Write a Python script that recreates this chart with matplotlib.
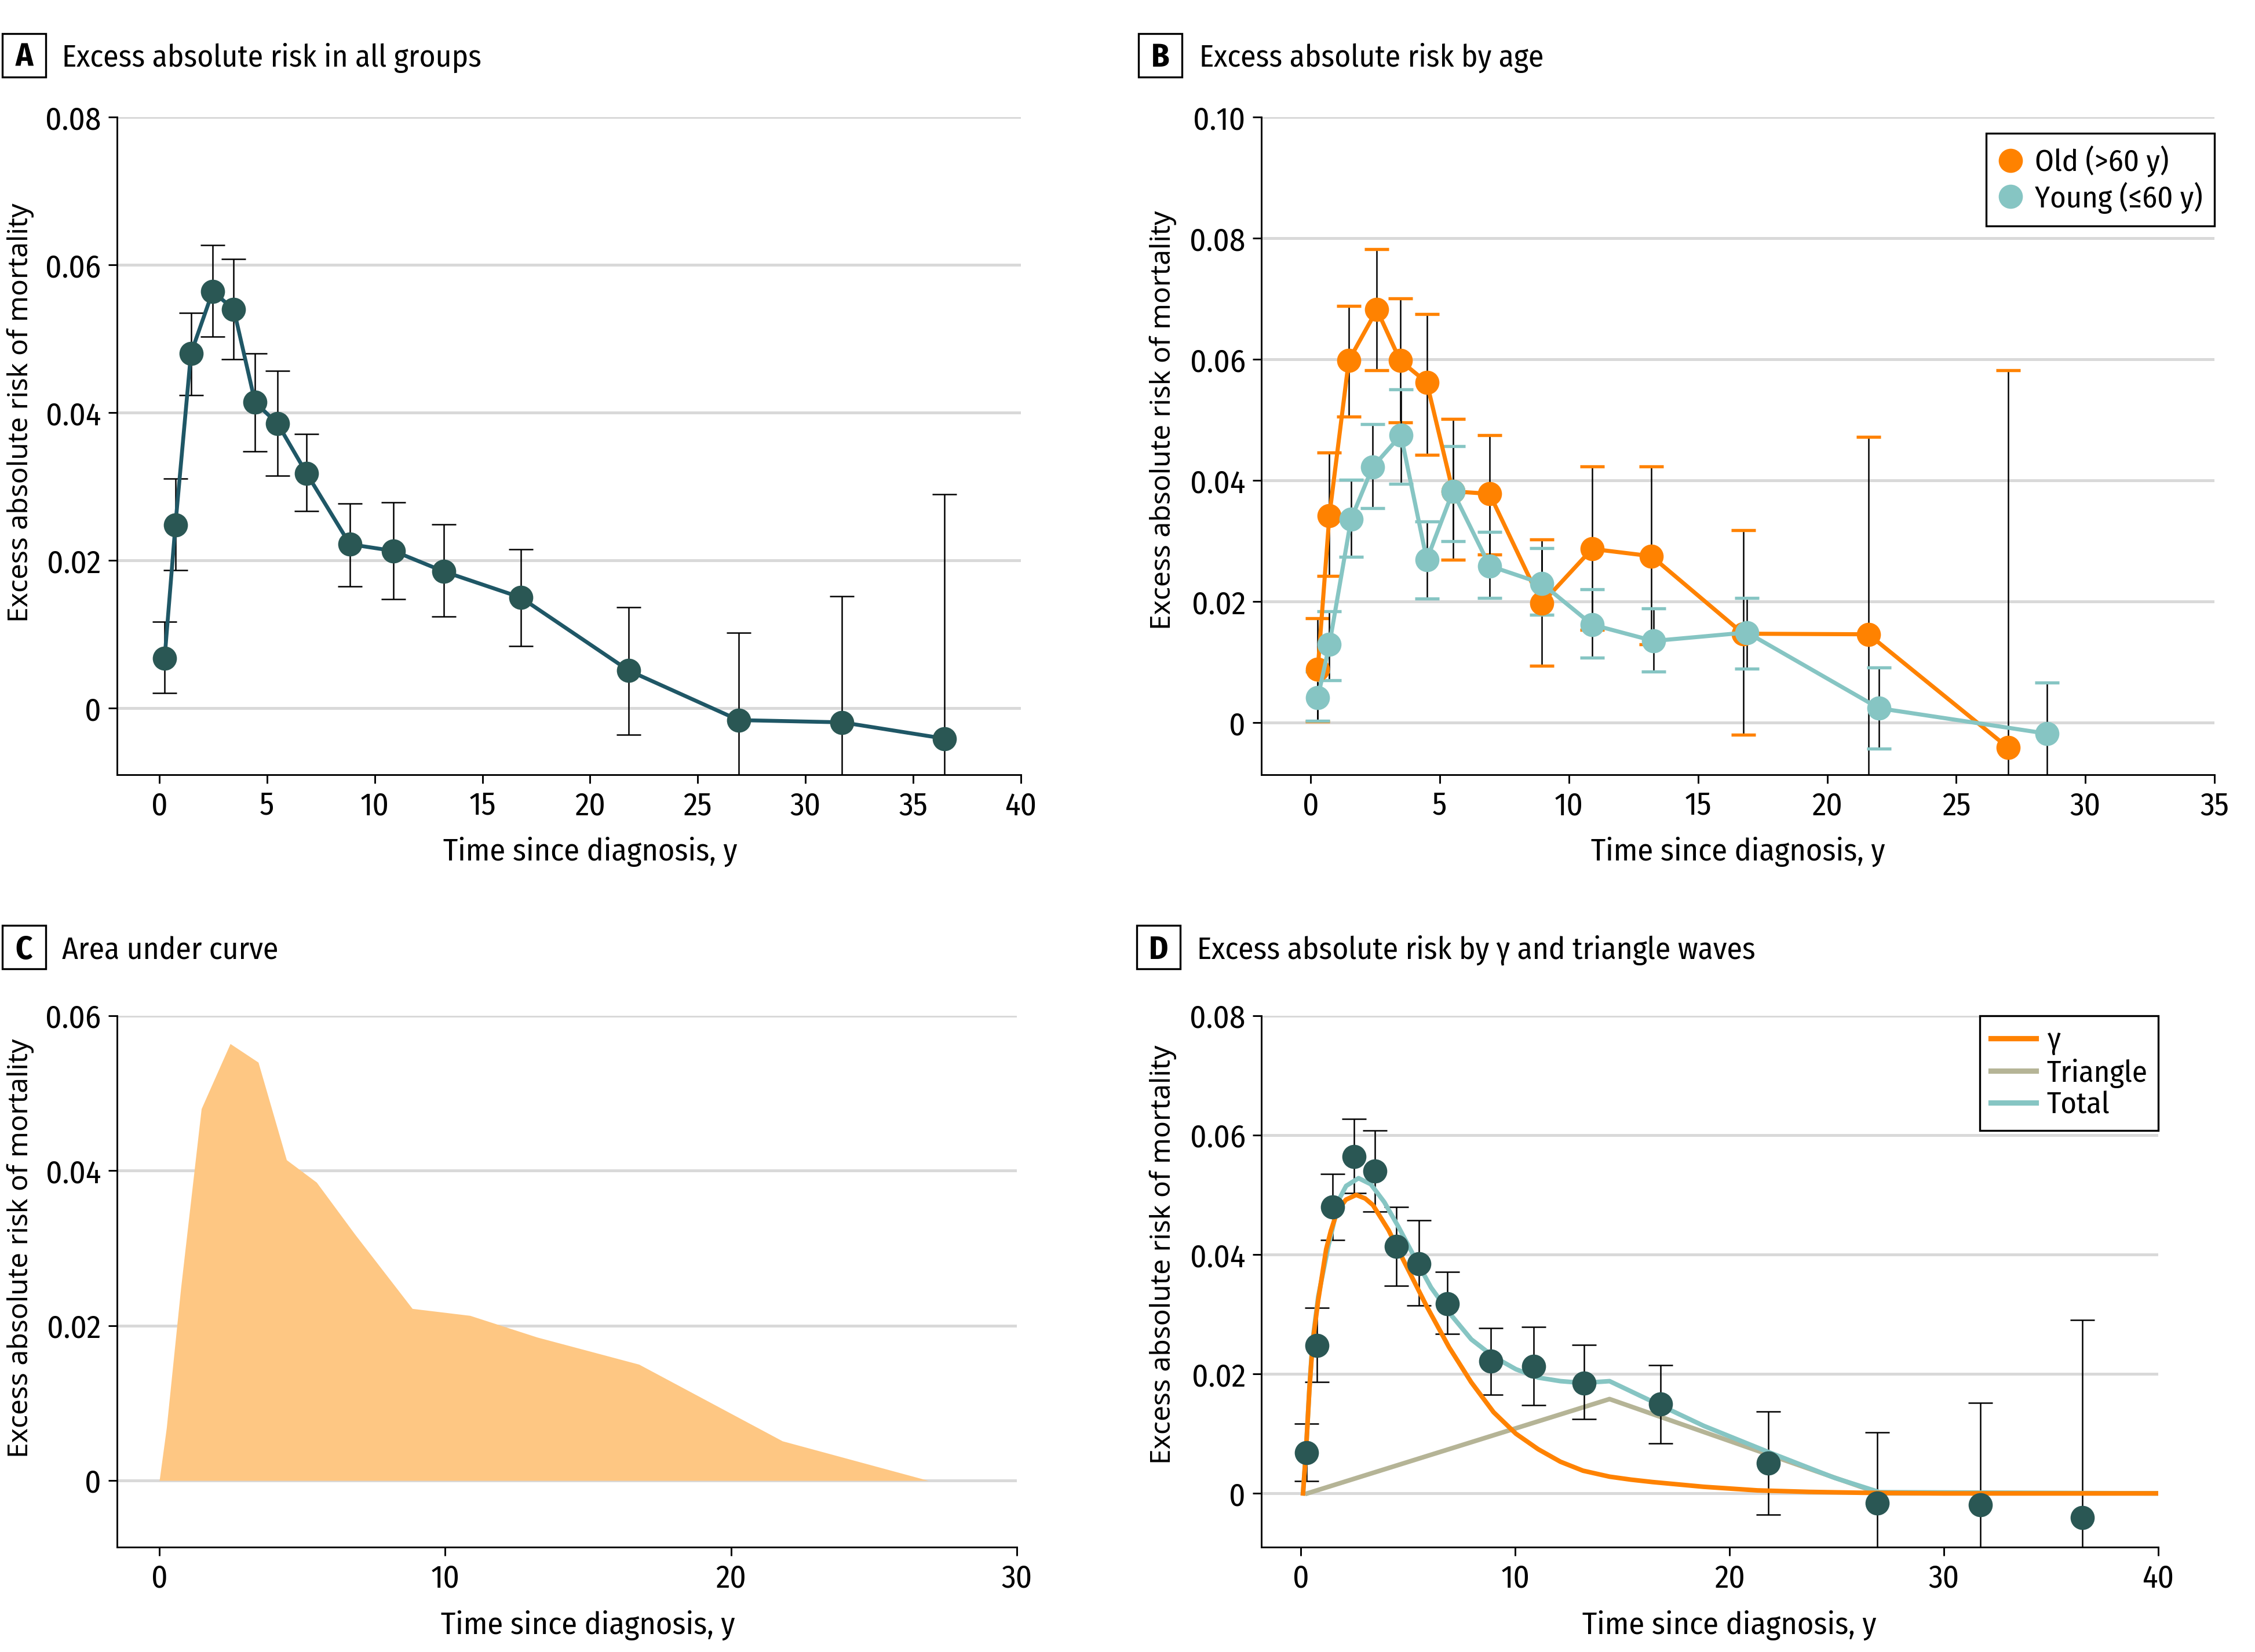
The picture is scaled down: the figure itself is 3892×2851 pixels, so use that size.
import numpy as np
import matplotlib
matplotlib.use('Agg')
import matplotlib.pyplot as plt
from matplotlib.lines import Line2D
from matplotlib.patches import Rectangle
from matplotlib.ticker import FuncFormatter, MultipleLocator

plt.rcParams['font.family'] = ['Fira Sans Condensed', 'Roboto Condensed', 'Barlow Semi Condensed',
                               'Archivo Narrow', 'DejaVu Sans']

# --- data ---
# A (and D): all groups
t_all = [0.25, 0.75, 1.47, 2.48, 3.46, 4.45, 5.5, 6.84, 8.85, 10.87, 13.22, 16.78, 21.8, 26.9, 31.7, 36.45]
risk_all = [0.0068, 0.0248, 0.0480, 0.0564, 0.0540, 0.0414, 0.0385, 0.0318, 0.0222, 0.0213, 0.0185, 0.0150,
            0.0051, -0.0016, -0.0019, -0.0041]
upper_all = [0.0117, 0.0311, 0.0535, 0.0627, 0.0608, 0.0480, 0.0457, 0.0371, 0.0277, 0.0279, 0.0249, 0.0215,
             0.0137, 0.0102, 0.0152, 0.0290]
lower_all = [0.0021, 0.0187, 0.0424, 0.0503, 0.0472, 0.0348, 0.0315, 0.0267, 0.0165, 0.0148, 0.0124, 0.0084,
             -0.0036, -0.0140, -0.0180, -0.0350]

# B: by age
t_old = [0.28, 0.73, 1.48, 2.57, 3.47, 4.5, 5.51, 6.93, 8.95, 10.9, 13.2, 16.75, 21.6, 27.0]
risk_old = [0.0088, 0.0342, 0.0598, 0.0682, 0.0598, 0.0562, 0.0382, 0.0378, 0.0197, 0.0287, 0.0275, 0.0147,
            0.0146, -0.0041]
upper_old = [0.0172, 0.0446, 0.0688, 0.0782, 0.0701, 0.0675, 0.0502, 0.0475, 0.0303, 0.0423, 0.0423, 0.0318,
             0.0472, 0.0582]
lower_old = [0.0002, 0.0242, 0.0505, 0.0582, 0.0496, 0.0442, 0.0269, 0.0278, 0.0094, 0.0153, 0.0129, -0.0020,
             -0.0200, -0.0400]

t_young = [0.28, 0.73, 1.57, 2.4, 3.5, 4.5, 5.51, 6.93, 8.95, 10.9, 13.28, 16.9, 22.0, 28.5]
risk_young = [0.0041, 0.0129, 0.0336, 0.0422, 0.0475, 0.0269, 0.0382, 0.0259, 0.0230, 0.0162, 0.0135, 0.0149,
              0.0024, -0.0018]
upper_young = [0.0084, 0.0184, 0.0401, 0.0493, 0.0550, 0.0332, 0.0457, 0.0315, 0.0288, 0.0220, 0.0189, 0.0206,
               0.0091, 0.0066]
lower_young = [0.0003, 0.0070, 0.0274, 0.0354, 0.0394, 0.0205, 0.0300, 0.0206, 0.0178, 0.0107, 0.0084, 0.0089,
               -0.0043, -0.0120]

# D: fitted waves
t_gamma = [0.1, 0.24, 0.4, 0.55, 0.81, 1.18, 1.4, 1.7, 2.1, 2.58, 3.0, 3.36, 4.09, 4.82, 5.86, 6.91, 7.95, 8.99,
           10.03, 11.07, 12.11, 13.16, 14.4, 15.4, 16.4, 18.8, 21.3, 23.7, 26.2, 30, 35, 40]
risk_gamma = [0.0, 0.0072, 0.0176, 0.0252, 0.0324, 0.0409, 0.0440, 0.0473, 0.0492, 0.0500, 0.0494, 0.0483, 0.0441,
              0.0388, 0.0314, 0.0245, 0.0186, 0.0136, 0.0100, 0.0074, 0.0053, 0.0038, 0.0028, 0.0023, 0.0019,
              0.0011, 0.0005, 0.00025, 0.0001, 0.0, 0.0, 0.0]
t_tri = [0.3, 14.4, 27.0, 40]
risk_tri = [0.0, 0.0158, 0.0, 0.0]
t_total = [0.1, 0.24, 0.4, 0.55, 0.81, 1.28, 1.8, 2.11, 2.69, 3.26, 3.89, 4.56, 5.34, 6.07, 6.91, 7.95, 8.99,
           10.03, 11.07, 12.11, 13.16, 14.4, 16.8, 18.8, 21.9, 24.9, 27.0, 40]
risk_total = [0.0, 0.0072, 0.0178, 0.0256, 0.0330, 0.0414, 0.0494, 0.0515, 0.0528, 0.0518, 0.0488, 0.0446, 0.0393,
              0.0345, 0.0303, 0.0258, 0.0229, 0.0208, 0.0194, 0.0188, 0.0185, 0.0188, 0.0147, 0.0113, 0.0068,
              0.0026, 0.0002, 0.0]

# C: area under the all-groups curve (clipped at zero)
t_area = [0.0] + [t for t in t_all if t <= 27]
risk_area = [0.0] + [max(r, 0.0) for t, r in zip(t_all, risk_all) if t <= 27]

# colours
dark = '#2a5754'
dark_line = '#1f5766'
orange = '#ff8200'
teal = '#86c5c3'
beige = '#b5b496'
fill = '#fec783'

ylab = 'Excess absolute risk of mortality'
xlab = 'Time since diagnosis, y'

fig = plt.figure(figsize=(3892 / 300, 2851 / 300), dpi=300)
ax_a = fig.add_axes([0.0519, 0.531, 0.4008, 0.3981])
ax_b = fig.add_axes([0.5594, 0.531, 0.4227, 0.3981])
ax_c = fig.add_axes([0.0519, 0.0635, 0.399, 0.3216])
ax_d = fig.add_axes([0.5594, 0.0635, 0.3977, 0.3216])


def style(ax, xlim, xstep, ylim, ystep):
    ax.set_xlim(xlim)
    ax.set_ylim(ylim)
    ax.xaxis.set_major_locator(MultipleLocator(xstep))
    ax.set_yticks(np.arange(0, ylim[1] + 1e-9, ystep))
    ax.yaxis.set_major_formatter(FuncFormatter(lambda v, p: '0' if abs(v) < 1e-9 else f'{v:.2f}'))
    for s in ['top', 'right']:
        ax.spines[s].set_visible(False)
    for s in ['left', 'bottom']:
        ax.spines[s].set_linewidth(0.7)
    ax.grid(axis='y', color='#d9d9d9', lw=1.2)
    ax.set_axisbelow(True)
    ax.tick_params(direction='out', length=3.6, width=0.7, labelsize=13.2, pad=3)


def labels(ax, xpos, xy, yx, ymid, xtrans='data'):
    tr = ax.get_xaxis_transform() if xtrans == 'data' else ax.transAxes
    ax.text(xpos, xy, xlab, transform=tr, ha='center', va='center', fontsize=13)
    ax.text(yx, ymid, ylab, transform=ax.get_yaxis_transform(), rotation=90, ha='center', va='center',
            family=['Noto Sans', 'DejaVu Sans'], fontsize=11.5)


def errbars(ax, x, y, lo, hi, capcolor, capthick):
    y = np.array(y)
    yerr = [y - np.array(lo), np.array(hi) - y]
    _, caps, _ = ax.errorbar(x, y, yerr=yerr, fmt='none', ecolor='black', elinewidth=0.6, capsize=5,
                             capthick=capthick, zorder=2)
    for c in caps:
        c.set_markeredgecolor(capcolor)


def panel_title(letter, bx, by, tx, ty, text):
    W, H = 3892, 2851
    fig.add_artist(Rectangle((bx / W, 1 - (by + 75) / H), 75 / W, 75 / H, transform=fig.transFigure,
                             fc='white', ec='black', lw=0.8))
    fig.text((bx + 37.5) / W, 1 - ty / H, letter, ha='center', va='baseline', fontsize=13.5, fontweight='bold')
    fig.text(tx / W, 1 - ty / H, text, ha='left', va='baseline', fontsize=12.8)


# A
style(ax_a, (-1.96, 40), 5, (-0.009, 0.08), 0.02)
errbars(ax_a, t_all, risk_all, lower_all, upper_all, 'black', 0.6)
ax_a.plot(t_all, risk_all, color=dark_line, lw=1.6, zorder=3)
ax_a.plot(t_all, risk_all, ls='none', marker='o', ms=9, color=dark, zorder=4)
labels(ax_a, 20, -0.117, -0.107, 0.04)

# B
style(ax_b, (-1.9, 35), 5, (-0.0086, 0.10), 0.02)
errbars(ax_b, t_old, risk_old, lower_old, upper_old, orange, 1.3)
errbars(ax_b, t_young, risk_young, lower_young, upper_young, teal, 1.3)
ax_b.plot(t_old, risk_old, color=orange, lw=1.7, marker='o', ms=9, zorder=4)
ax_b.plot(t_young, risk_young, color=teal, lw=1.7, marker='o', ms=9, zorder=5)
labels(ax_b, 0.5, -0.117, -0.103, 0.05, xtrans='axes')
h_b = [Line2D([], [], ls='none', marker='o', ms=9, color=orange),
       Line2D([], [], ls='none', marker='o', ms=9, color=teal)]
leg = ax_b.legend(h_b, ['Old (>60 y)', 'Young (≤60 y)'], loc='upper right', bbox_to_anchor=(1.0, 0.9753),
                  borderaxespad=0, fancybox=False, edgecolor='black', framealpha=1, fontsize=12.6,
                  handlelength=0.8, handletextpad=0.4, labelspacing=0.15, borderpad=0.4)
leg.get_frame().set_linewidth(0.8)

# C
style(ax_c, (-1.48, 30), 10, (-0.0086, 0.06), 0.02)
ax_c.fill_between(t_area, 0, risk_area, color=fill, lw=0, zorder=2)
labels(ax_c, 15, -0.147, -0.1075, 0.03)

# D
style(ax_d, (-1.84, 40), 10, (-0.009, 0.08), 0.02)
l_tri, = ax_d.plot(t_tri, risk_tri, color=beige, lw=1.9, zorder=2)
l_tot, = ax_d.plot(t_total, risk_total, color=teal, lw=1.9, zorder=2.2)
l_gam, = ax_d.plot(t_gamma, risk_gamma, color=orange, lw=1.9, zorder=2.4)
errbars(ax_d, t_all, risk_all, lower_all, upper_all, 'black', 0.6)
ax_d.plot(t_all, risk_all, ls='none', marker='o', ms=9, color=dark, zorder=4)
labels(ax_d, 20, -0.147, -0.11, 0.04)
leg = ax_d.legend([l_gam, l_tri, l_tot], ['γ', 'Triangle', 'Total'], loc='upper right', bbox_to_anchor=(1.0, 1.0),
                  borderaxespad=0, fancybox=False, edgecolor='black', framealpha=1, fontsize=12.6,
                  handlelength=1.5, handletextpad=0.35, labelspacing=0.1, borderpad=0.35)
leg.get_frame().set_linewidth(0.8)
for ln in leg.get_lines():
    ln.set_linewidth(2.2)

panel_title('A', 4, 58, 107, 115, 'Excess absolute risk in all groups')
panel_title('B', 1965, 58, 2070, 115, 'Excess absolute risk by age')
panel_title('C', 4, 1597, 107, 1655, 'Area under curve')
panel_title('D', 1962, 1597, 2066, 1655, 'Excess absolute risk by γ and triangle waves')

fig.savefig('out.png', dpi=300)
